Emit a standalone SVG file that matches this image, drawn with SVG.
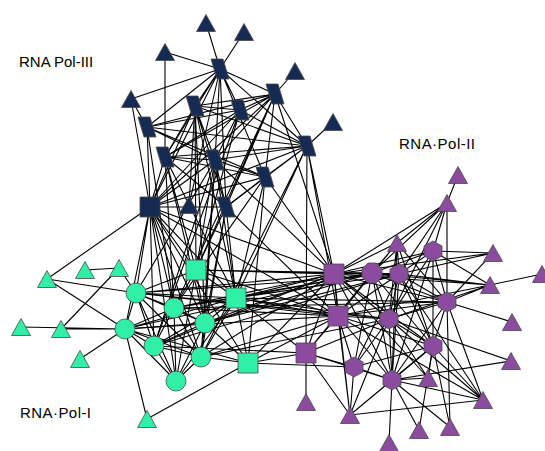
<svg xmlns="http://www.w3.org/2000/svg" xmlns:xlink="http://www.w3.org/1999/xlink" width="545" height="451" viewBox="0 0 545 451">
<style>
.e path{stroke:#000;stroke-width:1.1;fill:none}
.n use{stroke:#4a4a4a;stroke-width:0.8}
.nv{fill:#162b53}
.gr{fill:#2ff0a6}
.pu{fill:#8b4b9f}
text{font-family:"Liberation Sans",Arial,sans-serif;font-size:15px;fill:#000}
</style>
<defs>
<path id="tri" d="M0,-8.5L9.5,8.5L-9.5,8.5Z"/>
<path id="sq" d="M-10,-10H10V10H-10Z"/>
<path id="par" d="M-9,-10L3,-10L9,10L-3,10Z"/>
<path id="hex" d="M0,-10L9,-5L9,5L0,10L-9,5L-9,-5Z"/>
<path id="oct" d="M-4,-10L4,-10L10,-4L10,4L4,10L-4,10L-10,4L-10,-4Z"/>
<circle id="cir" r="10"/>
</defs>
<g class="e" id="connectors">
<path d="M206 23L220 69M244 32L220 69M165 52L220 69M165 52L165 157M131 99L220 69M131 99L150 207M131 99L147 127M295 71L275 94M333 122L307 146M189 205L195 106M189 205L220 69"/>
<path d="M220 69L275 94M220 69L195 106M220 69L240 110M220 69L147 127M220 69L307 146M220 69L165 157M220 69L215 160M220 69L265 177M220 69L226 207M220 69L150 207"/>
<path d="M275 94L195 106M275 94L240 110M275 94L147 127M275 94L165 157M275 94L215 160M275 94L265 177M275 94L226 207M275 94L307 146M275 94L150 207M275 94L196 270M275 94L334 274M275 94L174 308"/>
<path d="M195 106L240 110M195 106L307 146M195 106L165 157M195 106L215 160M195 106L226 207M195 106L150 207M195 106L196 270M195 106L236 298M195 106L205 323"/>
<path d="M240 110L147 127M240 110L307 146M240 110L165 157M240 110L215 160M240 110L150 207M240 110L196 270M240 110L154 346"/>
<path d="M147 127L307 146M147 127L215 160M147 127L150 207M147 127L265 177M147 127L174 308"/>
<path d="M307 146L165 157M307 146L215 160M307 146L265 177M307 146L334 274M307 146L306 353M307 146L338 316M307 146L236 298M307 146L201 357M307 146L226 207M307 146L150 207"/>
<path d="M165 157L215 160M165 157L265 177M165 157L150 207M165 157L196 270M165 157L174 308M165 157L205 323M165 157L236 298M165 157L226 207"/>
<path d="M215 160L265 177M215 160L226 207M215 160L150 207M215 160L196 270M215 160L236 298M215 160L136 293M215 160L201 357M215 160L334 274M215 160L205 323M215 160L154 346"/>
<path d="M265 177L150 207M265 177L226 207M265 177L236 298M265 177L334 274M265 177L174 308M265 177L248 363"/>
<path d="M226 207L150 207M226 207L196 270M226 207L236 298M226 207L205 323M226 207L338 316M226 207L201 357"/>
<path d="M150 207L47 279M150 207L136 293M150 207L174 308M150 207L205 323M150 207L125 329M150 207L154 346M150 207L201 357M150 207L176 381M150 207L196 270M150 207L236 298M150 207L248 363M150 207L334 274M150 207L338 316"/>
<path d="M47 279L136 293M47 279L125 329M85 270L119 268M119 268L61 329M119 268L136 293M21 327L125 329M61 329L125 329M80 359L125 329M147 419L125 329M147 419L248 363"/>
<path d="M136 293L174 308M136 293L205 323M136 293L125 329M136 293L154 346M136 293L201 357M136 293L176 381M136 293L196 270M136 293L236 298M136 293L334 274M136 293L338 316M136 293L399 274M136 293L389 319"/>
<path d="M174 308L205 323M174 308L125 329M174 308L154 346M174 308L201 357M174 308L176 381M174 308L236 298M174 308L334 274M174 308L338 316M174 308L372 273M174 308L447 302"/>
<path d="M205 323L125 329M205 323L154 346M205 323L201 357M205 323L176 381M205 323L236 298M205 323L248 363M205 323L334 274M205 323L399 274M205 323L372 273"/>
<path d="M125 329L154 346M125 329L201 357M125 329L176 381M125 329L236 298M125 329L338 316M125 329L248 363M125 329L372 273"/>
<path d="M154 346L201 357M154 346L176 381M154 346L236 298M154 346L334 274M154 346L306 353M154 346L399 274"/>
<path d="M201 357L176 381M201 357L248 363M201 357L334 274M201 357L338 316M201 357L236 298M201 357L389 319"/>
<path d="M176 381L236 298M176 381L196 270"/>
<path d="M196 270L236 298M196 270L205 323M196 270L334 274M196 270L338 316M196 270L174 308M196 270L372 273M196 270L399 274"/>
<path d="M236 298L334 274M236 298L338 316M236 298L306 353M236 298L372 273M236 298L399 274M236 298L389 319M236 298L248 363M236 298L447 302"/>
<path d="M248 363L334 274M248 363L338 316M248 363L306 353M248 363L354 367"/>
<path d="M458 175L447 203M447 203L334 274M447 203L372 273M447 203L399 274M447 203L433 251M447 203L447 302M447 203L397 243M447 203L389 319"/>
<path d="M397 243L334 274M397 243L372 273M397 243L399 274M397 243L447 302M397 243L389 319M397 243L433 346M397 243L392 380M397 243L338 316"/>
<path d="M493 253L399 274M493 253L433 251M493 253L447 302M493 253L334 274M542 274L490 285"/>
<path d="M490 285L399 274M490 285L447 302M490 285L433 251M490 285L372 273M490 285L334 274M490 285L389 319M490 285L338 316"/>
<path d="M512 322L447 302M511 361L392 380M511 361L389 319M428 378L433 346M428 378L389 319M428 378L392 380M428 378L334 274"/>
<path d="M483 400L433 346M483 400L447 302M483 400L392 380M483 400L350 415M483 400L389 319M483 400L338 316M483 400L399 274"/>
<path d="M306 402L306 353M350 415L354 367M350 415L389 319M350 415L338 316M350 415L306 353M350 415L392 380M350 415L334 274M350 415L433 346"/>
<path d="M419 430L392 380M419 430L433 346M450 427L433 346M450 427L392 380M450 427L447 302M389 443L392 380"/>
<path d="M433 251L399 274M433 251L447 302M433 251L389 319M433 251L334 274M433 251L372 273M433 251L433 346M433 251L392 380"/>
<path d="M399 274L372 273M399 274L334 274M399 274L338 316M399 274L447 302M399 274L389 319M399 274L433 346M399 274L354 367M399 274L392 380"/>
<path d="M447 302L334 274M447 302L338 316M447 302L389 319M447 302L433 346M447 302L372 273M447 302L392 380"/>
<path d="M389 319L334 274M389 319L338 316M389 319L306 353M389 319L372 273M389 319L433 346M389 319L354 367M389 319L392 380"/>
<path d="M433 346L334 274M433 346L338 316M433 346L372 273M433 346L354 367M433 346L392 380"/>
<path d="M354 367L338 316M354 367L306 353M354 367L372 273M354 367L392 380M392 380L334 274M392 380L338 316M392 380L306 353M392 380L372 273"/>
<path d="M372 273L334 274M372 273L338 316M372 273L306 353M334 274L338 316M338 316L306 353M334 274L306 353"/>
</g>
<g class="n">
<g id="pol3-t1"><use xlink:href="#tri" class="nv" x="206" y="23"/></g>
<g id="pol3-t2"><use xlink:href="#tri" class="nv" x="244" y="32"/></g>
<g id="pol3-t3"><use xlink:href="#tri" class="nv" x="165" y="52"/></g>
<g id="pol3-t4"><use xlink:href="#tri" class="nv" x="131" y="99"/></g>
<g id="pol3-t5"><use xlink:href="#tri" class="nv" x="295" y="71"/></g>
<g id="pol3-t6"><use xlink:href="#tri" class="nv" x="333" y="122"/></g>
<g id="pol3-t7"><use xlink:href="#tri" class="nv" x="189" y="205"/></g>
<g id="pol3-p1"><use xlink:href="#par" class="nv" x="220" y="69"/></g>
<g id="pol3-p2"><use xlink:href="#par" class="nv" x="275" y="94"/></g>
<g id="pol3-p3"><use xlink:href="#par" class="nv" x="195" y="106"/></g>
<g id="pol3-p4"><use xlink:href="#par" class="nv" x="240" y="110"/></g>
<g id="pol3-p5"><use xlink:href="#par" class="nv" x="147" y="127"/></g>
<g id="pol3-p6"><use xlink:href="#par" class="nv" x="307" y="146"/></g>
<g id="pol3-p7"><use xlink:href="#par" class="nv" x="165" y="157"/></g>
<g id="pol3-p8"><use xlink:href="#par" class="nv" x="215" y="160"/></g>
<g id="pol3-p9"><use xlink:href="#par" class="nv" x="265" y="177"/></g>
<g id="pol3-p10"><use xlink:href="#par" class="nv" x="226" y="207"/></g>
<g id="pol3-s1"><use xlink:href="#sq" class="nv" x="150" y="207"/></g>

<g id="pol1-g1"><use xlink:href="#tri" class="gr" x="47" y="279"/></g>
<g id="pol1-g2"><use xlink:href="#tri" class="gr" x="85" y="270"/></g>
<g id="pol1-g3"><use xlink:href="#tri" class="gr" x="119" y="268"/></g>
<g id="pol1-g4"><use xlink:href="#tri" class="gr" x="21" y="327"/></g>
<g id="pol1-g5"><use xlink:href="#tri" class="gr" x="61" y="329"/></g>
<g id="pol1-g6"><use xlink:href="#tri" class="gr" x="80" y="359"/></g>
<g id="pol1-g7"><use xlink:href="#tri" class="gr" x="147" y="419"/></g>
<g id="pol1-c1"><use xlink:href="#cir" class="gr" x="136" y="293"/></g>
<g id="pol1-c2"><use xlink:href="#cir" class="gr" x="174" y="308"/></g>
<g id="pol1-c3"><use xlink:href="#cir" class="gr" x="205" y="323"/></g>
<g id="pol1-c4"><use xlink:href="#cir" class="gr" x="125" y="329"/></g>
<g id="pol1-c5"><use xlink:href="#cir" class="gr" x="154" y="346"/></g>
<g id="pol1-c6"><use xlink:href="#cir" class="gr" x="201" y="357"/></g>
<g id="pol1-c7"><use xlink:href="#cir" class="gr" x="176" y="381"/></g>
<g id="pol1-k1"><use xlink:href="#sq" class="gr" x="196" y="270"/></g>
<g id="pol1-k2"><use xlink:href="#sq" class="gr" x="236" y="298"/></g>
<g id="pol1-k3"><use xlink:href="#sq" class="gr" x="248" y="363"/></g>

<g id="pol2-a1"><use xlink:href="#tri" class="pu" x="458" y="175"/></g>
<g id="pol2-a2"><use xlink:href="#tri" class="pu" x="447" y="203"/></g>
<g id="pol2-a3"><use xlink:href="#tri" class="pu" x="397" y="243"/></g>
<g id="pol2-a4"><use xlink:href="#tri" class="pu" x="493" y="253"/></g>
<g id="pol2-a5"><use xlink:href="#tri" class="pu" x="542" y="274"/></g>
<g id="pol2-a6"><use xlink:href="#tri" class="pu" x="490" y="285"/></g>
<g id="pol2-a7"><use xlink:href="#tri" class="pu" x="512" y="322"/></g>
<g id="pol2-a8"><use xlink:href="#tri" class="pu" x="511" y="361"/></g>
<g id="pol2-a9"><use xlink:href="#tri" class="pu" x="428" y="378"/></g>
<g id="pol2-a10"><use xlink:href="#tri" class="pu" x="483" y="400"/></g>
<g id="pol2-a11"><use xlink:href="#tri" class="pu" x="306" y="402"/></g>
<g id="pol2-a12"><use xlink:href="#tri" class="pu" x="350" y="415"/></g>
<g id="pol2-a13"><use xlink:href="#tri" class="pu" x="419" y="430"/></g>
<g id="pol2-a14"><use xlink:href="#tri" class="pu" x="450" y="427"/></g>
<g id="pol2-a15"><use xlink:href="#tri" class="pu" x="389" y="443"/></g>
<g id="pol2-h1"><use xlink:href="#hex" class="pu" x="433" y="251"/></g>
<g id="pol2-h2"><use xlink:href="#hex" class="pu" x="399" y="274"/></g>
<g id="pol2-h3"><use xlink:href="#hex" class="pu" x="447" y="302"/></g>
<g id="pol2-h4"><use xlink:href="#hex" class="pu" x="389" y="319"/></g>
<g id="pol2-h5"><use xlink:href="#hex" class="pu" x="433" y="346"/></g>
<g id="pol2-h6"><use xlink:href="#hex" class="pu" x="354" y="367"/></g>
<g id="pol2-h7"><use xlink:href="#hex" class="pu" x="392" y="380"/></g>
<g id="pol2-o1"><use xlink:href="#oct" class="pu" x="372" y="273"/></g>
<g id="pol2-q1"><use xlink:href="#sq" class="pu" x="334" y="274"/></g>
<g id="pol2-q2"><use xlink:href="#sq" class="pu" x="338" y="316"/></g>
<g id="pol2-q3"><use xlink:href="#sq" class="pu" x="306" y="353"/></g>
</g>
<g id="labels">
<text x="19" y="67">RNA Pol-III</text>
<text x="399" y="149" textLength="76" lengthAdjust="spacing">RNA·Pol-II</text>
<text x="20" y="418" textLength="71" lengthAdjust="spacing">RNA·Pol-I</text>
</g>
</svg>
